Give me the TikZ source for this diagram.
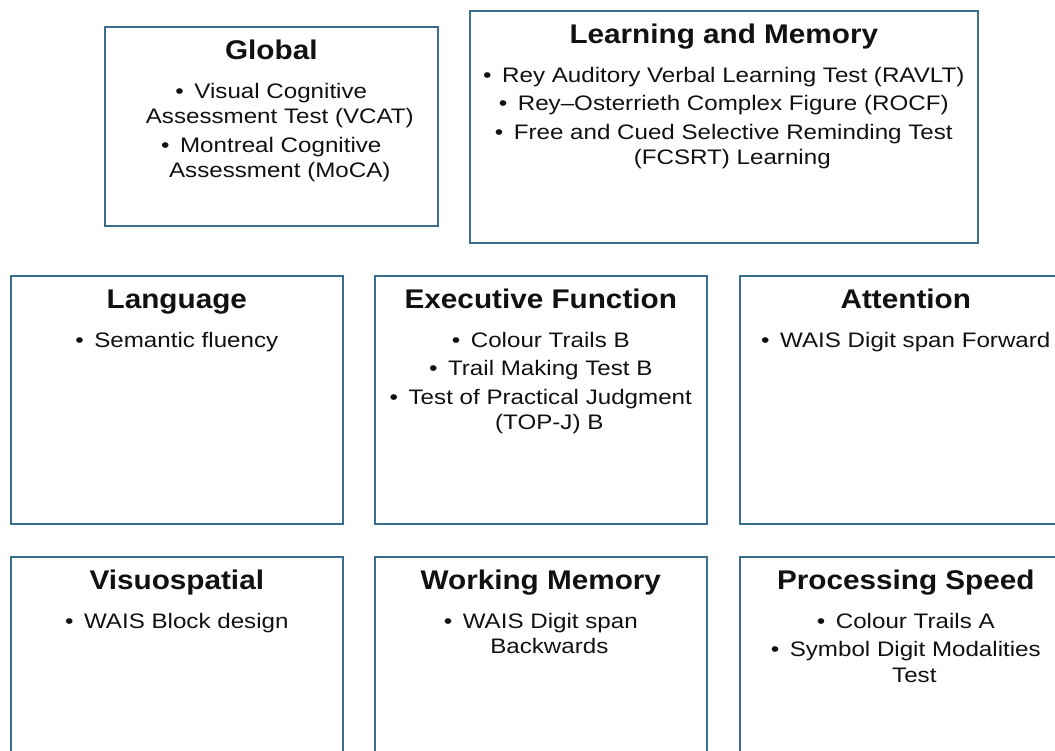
\documentclass[tikz,border=0pt]{standalone}
\usepackage{fontspec}
\setmainfont{Liberation Sans}
\newfontfamily\titlefont[FakeStretch=1.1]{Liberation Sans}
\newfontfamily\itemfont[FakeStretch=1.15]{Liberation Sans}
\definecolor{boxblue}{HTML}{3A6E8E}
\definecolor{txt}{HTML}{111111}
\newcommand\bul{•\hspace{0.5em}}
\newcommand\cont{\hspace*{17pt}}
\begin{document}
\begin{tikzpicture}[x=1pt,y=-1pt,
  box/.style={draw=boxblue, line width=1.6pt, fill=white, inner sep=0pt, anchor=north west},
  ttl/.style={font=\titlefont\bfseries\fontsize{27}{30}\selectfont, text=txt, inner sep=0pt, anchor=base},
  items/.style={font=\itemfont\fontsize{21}{25.5}\selectfont, text=txt, inner sep=0pt, align=center, anchor=north}]
\useasboundingbox (0,0) rectangle (1055,750);
\fill[white] (0,0) rectangle (1055,750);
% boxes
\node[box, minimum width=333pt, minimum height=199pt] (glob) at (104,26) {};
\node[box, minimum width=508pt, minimum height=232pt] (lm) at (469,10) {};
\node[box, minimum width=332pt, minimum height=248pt] (lang) at (10,275) {};
\node[box, minimum width=332pt, minimum height=248pt] (exec) at (374,275) {};
\node[box, minimum width=332pt, minimum height=248pt] (att) at (739,275) {};
\node[box, minimum width=332pt, minimum height=248pt] (vis) at (10,556) {};
\node[box, minimum width=332pt, minimum height=248pt] (wm) at (374,556) {};
\node[box, minimum width=332pt, minimum height=248pt] (ps) at (739,556) {};
% titles
\node[ttl] (globT) at ([yshift=-33pt]glob.north) {Global};
\node[ttl] (lmT) at ([yshift=-33pt]lm.north) {Learning and Memory};
\node[ttl] (langT) at ([yshift=-33pt]lang.north) {Language};
\node[ttl] (execT) at ([yshift=-33pt]exec.north) {Executive Function};
\node[ttl] (attT) at ([yshift=-33pt]att.north) {Attention};
\node[ttl] (visT) at ([yshift=-33pt]vis.north) {Visuospatial};
\node[ttl] (wmT) at ([yshift=-33pt]wm.north) {Working Memory};
\node[ttl] (psT) at ([yshift=-33pt]ps.north) {Processing Speed};
% items
\node[items] (globI) at ([yshift=-57pt]glob.north) {\bul Visual Cognitive\\\cont Assessment Test (VCAT)\\[3pt]\bul Montreal Cognitive\\\cont Assessment (MoCA)};
\node[items] (lmI) at ([yshift=-57pt]lm.north) {\bul Rey Auditory Verbal Learning Test (RAVLT)\\[3pt]\bul Rey–Osterrieth Complex Figure (ROCF)\\[3pt]\bul Free and Cued Selective Reminding Test\\\cont (FCSRT) Learning};
\node[items] (langI) at ([yshift=-57pt]lang.north) {\bul Semantic fluency};
\node[items] (execI) at ([yshift=-57pt]exec.north) {\bul Colour Trails B\\[3pt]\bul Trail Making Test B\\[3pt]\bul Test of Practical Judgment\\\cont (TOP-J) B};
\node[items] (attI) at ([yshift=-57pt]att.north) {\bul WAIS Digit span Forward};
\node[items] (visI) at ([yshift=-57pt]vis.north) {\bul WAIS Block design};
\node[items] (wmI) at ([yshift=-57pt]wm.north) {\bul WAIS Digit span\\\cont Backwards};
\node[items] (psI) at ([yshift=-57pt]ps.north) {\bul Colour Trails A\\[3pt]\bul Symbol Digit Modalities\\\cont Test};
\end{tikzpicture}
\end{document}
